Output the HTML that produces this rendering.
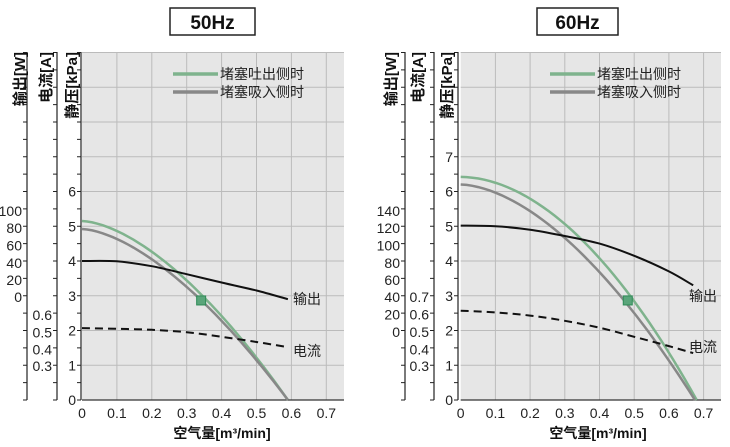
<!DOCTYPE html>
<html><head><meta charset="utf-8"><style>
body{margin:0;background:#fff}
svg{display:block;font-family:"Liberation Sans","Noto Sans CJK SC",sans-serif}
.t{font-size:14px;fill:#222}
.c{font-size:14px;fill:#222}
.b{font-size:14px;font-weight:bold;fill:#111}
.v{font-size:15px;font-weight:bold;fill:#111}
</style></head><body>
<svg id="s" width="730" height="447" viewBox="0 0 730 447">
<rect x="170" y="8" width="85" height="27" fill="#fff" stroke="#222" stroke-width="1.5"/>
<text x="212.5" y="29" text-anchor="middle" font-size="19" font-weight="bold" fill="#111">50Hz</text>
<rect x="537" y="8" width="81" height="27" fill="#fff" stroke="#222" stroke-width="1.5"/>
<text x="577.5" y="29" text-anchor="middle" font-size="19" font-weight="bold" fill="#111">60Hz</text>
<g id="g"></g>
<text class="v" transform="translate(25,52) rotate(-90)" text-anchor="end">输出[W]</text>
<text class="v" transform="translate(51,52) rotate(-90)" text-anchor="end">电流[A]</text>
<text class="v" transform="translate(77,52) rotate(-90)" text-anchor="end">静压[kPa]</text>
<text class="v" transform="translate(396,52) rotate(-90)" text-anchor="end">输出[W]</text>
<text class="v" transform="translate(423,52) rotate(-90)" text-anchor="end">电流[A]</text>
<text class="v" transform="translate(452,52) rotate(-90)" text-anchor="end">静压[kPa]</text>
<line x1="173" y1="74" x2="218" y2="74" stroke="#7fb38d" stroke-width="3.5"/>
<line x1="173" y1="92" x2="218" y2="92" stroke="#888" stroke-width="3.5"/>
<text class="c" x="220" y="79">堵塞吐出侧时</text>
<text class="c" x="220" y="97">堵塞吸入侧时</text>
<line x1="550" y1="74" x2="595" y2="74" stroke="#7fb38d" stroke-width="3.5"/>
<line x1="550" y1="92" x2="595" y2="92" stroke="#888" stroke-width="3.5"/>
<text class="c" x="597" y="79">堵塞吐出侧时</text>
<text class="c" x="597" y="97">堵塞吸入侧时</text>
<text class="c" x="293" y="304">输出</text>
<text class="c" x="293" y="356">电流</text>
<text class="c" x="689" y="301">输出</text>
<text class="c" x="689" y="352">电流</text>
<text class="b" x="222" y="438" text-anchor="middle">空气量[m³/min]</text>
<text class="b" x="598" y="438" text-anchor="middle">空气量[m³/min]</text>
</svg>
<script>
const g=document.getElementById('g');let h='';
function L(x1,y1,x2,y2,s,w,d){h+=`<line x1="${x1}" y1="${y1}" x2="${x2}" y2="${y2}" stroke="${s}" stroke-width="${w}"${d?` stroke-dasharray="${d}"`:''}/>`}
function T(x,y,t,a){h+=`<text class="t" x="${x}" y="${y}" text-anchor="${a||'end'}">${t}</text>`}
function chart(o){
 const X=v=>o.x0+v*o.sx, Y=p=>400-p*34.75;
 h+=`<rect x="${o.x0}" y="52" width="${o.xr-o.x0}" height="348" fill="#e6e6e6"/>`;
 for(let i=1;i<=7;i++)L(X(i/10),52,X(i/10),400,'#bbb',1);
 for(let p=1;p<=10;p++)L(o.x0,Y(p),o.xr,Y(p),'#bbb',1);
 L(o.x0,400,o.xr,400,'#333',1.2);
 for(let i=0;i<=7;i++)T(X(i/10),418,i?('0.'+i):'0','middle');
 [o.ak,o.aa,o.aw].forEach(ax=>{L(ax,52,ax,400,'#222',1.2);for(let p=0;p<=20;p++)L(ax-4,400-p*17.375,ax,400-p*17.375,'#222',1)});
 for(let p=0;p<=o.pm;p++)T(o.ak-5,Y(p)+5,p);
 o.amps.forEach(a=>T(o.aa-5,a[1]+5,a[0]));
 o.watts.forEach(a=>T(o.aw-5,a[1]+5,a[0]));
 const pc=(P0,e,n)=>{let d='';for(let i=0;i<=40;i++){const x=e*i/40;d+=(i?'L':'M')+X(x).toFixed(1)+','+Y(P0*(1-Math.pow(x/e,n))).toFixed(1)}return d};
 const pl=pts=>{const p=pts.map(q=>[X(q[0]),Y(q[1])]);let d='M'+p[0][0].toFixed(1)+','+p[0][1].toFixed(1);
  for(let i=0;i<p.length-1;i++){const a=p[i-1]||p[i],b=p[i],c=p[i+1],e=p[i+2]||c;
   d+=`C${(b[0]+(c[0]-a[0])/6).toFixed(1)},${(b[1]+(c[1]-a[1])/6).toFixed(1)} ${(c[0]-(e[0]-b[0])/6).toFixed(1)},${(c[1]-(e[1]-b[1])/6).toFixed(1)} ${c[0].toFixed(1)},${c[1].toFixed(1)}`}return d};
 h+=`<path d="${pc(...o.gr)}" fill="none" stroke="#7fb38d" stroke-width="2.5"/>`;
 h+=`<path d="${pc(...o.gy)}" fill="none" stroke="#888" stroke-width="2.5"/>`;
 h+=`<path d="${pl(o.bk)}" fill="none" stroke="#111" stroke-width="2"/>`;
 h+=`<path d="${pl(o.ds)}" fill="none" stroke="#111" stroke-width="2" stroke-dasharray="8,5"/>`;
 h+=`<rect x="${X(o.m)-4}" y="${Y(2.85)-5}" width="9" height="9" fill="#5aa57a" stroke="#2e8b57"/>`;
}
chart({x0:82,sx:349,xr:344,ak:81,aa:57,aw:27,pm:6,
 amps:[['0.6',315],['0.5',332.5],['0.4',349.5],['0.3',366]],
 watts:[['100',211],['80',228],['60',245.5],['40',263],['20',280],['0',297]],
 gr:[5.15,0.59,1.63],gy:[4.92,0.59,1.6],
 bk:[[0,4.0],[0.1,3.99],[0.2,3.85],[0.3,3.62],[0.4,3.38],[0.5,3.15],[0.59,2.9]],
 ds:[[0,2.07],[0.1,2.05],[0.2,2.02],[0.3,1.95],[0.4,1.82],[0.5,1.67],[0.59,1.52]],m:0.34});
chart({x0:460.7,sx:347,xr:721,ak:458,aa:434,aw:405,pm:7,
 amps:[['0.7',297],['0.6',314.5],['0.5',332],['0.4',349.5],['0.3',366]],
 watts:[['140',211],['120',228],['100',245.5],['80',263],['60',280],['40',297],['20',314.5],['0',332]],
 gr:[6.42,0.68,1.9],gy:[6.2,0.675,1.72],
 bk:[[0,5.02],[0.1,5.0],[0.2,4.9],[0.3,4.72],[0.4,4.5],[0.5,4.15],[0.6,3.7],[0.67,3.3]],
 ds:[[0,2.57],[0.1,2.52],[0.2,2.43],[0.3,2.28],[0.4,2.08],[0.5,1.82],[0.6,1.55],[0.67,1.35]],m:0.48});
g.innerHTML=h;
</script>
</body></html>
